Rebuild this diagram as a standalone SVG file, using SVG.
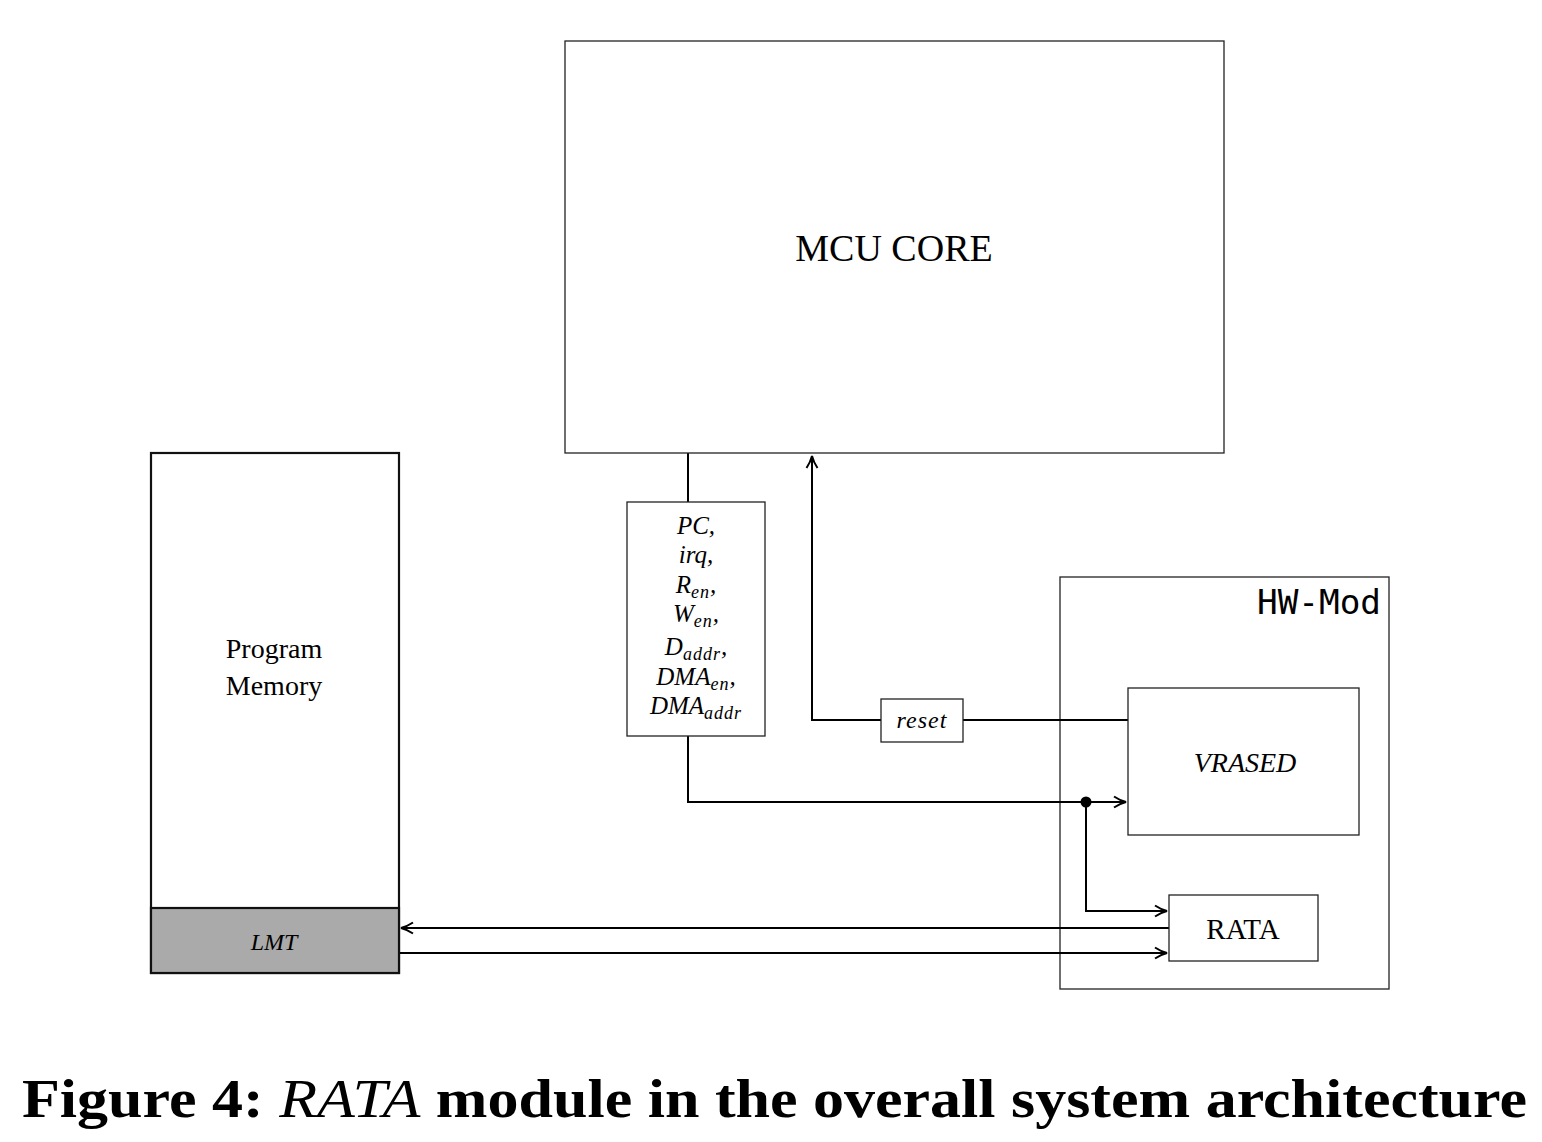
<svg xmlns="http://www.w3.org/2000/svg" width="1542" height="1142" viewBox="0 0 1542 1142">
<style>
.box{fill:#fff;stroke:#222;stroke-width:1.3}
.thick{fill:#fff;stroke:#111;stroke-width:2.2}
.wire{fill:none;stroke:#000;stroke-width:2}
.t{font-family:"Liberation Serif","DejaVu Serif",serif;fill:#000;text-anchor:middle}
.i{font-style:italic}
.sub{font-size:18px;letter-spacing:1px}
</style>
<defs>
<marker id="arr" viewBox="0 0 14 14" refX="13" refY="7" markerWidth="14" markerHeight="14" markerUnits="userSpaceOnUse" orient="auto">
<path d="M1,1.5 Q7,5.5 13,7 Q7,8.5 1,12.5" fill="none" stroke="#000" stroke-width="2"/>
</marker>
</defs>
<rect width="1542" height="1142" fill="#fff"/>
<g id="hw-mod">
<rect class="box" x="1060" y="577" width="329" height="412"/>
<text x="1381" y="614" font-size="34" font-family="'DejaVu Sans Mono',monospace" text-anchor="end" textLength="124" lengthAdjust="spacingAndGlyphs">HW-Mod</text>
</g>
<g id="connectors">
<polyline class="wire" points="688,453 688,502"/>
<polyline class="wire" points="688,736 688,802 1126,802" marker-end="url(#arr)"/>
<polyline class="wire" points="1086,802 1086,911 1167,911" marker-end="url(#arr)"/>
<circle cx="1086" cy="802" r="5.5" fill="#000"/>
<polyline class="wire" points="881,720 812,720 812,456" marker-end="url(#arr)"/>
<polyline class="wire" points="963,720 1128,720"/>
<polyline class="wire" points="1169,928 401,928" marker-end="url(#arr)"/>
<polyline class="wire" points="399,953 1167,953" marker-end="url(#arr)"/>
</g>
<g id="mcu-core">
<rect class="box" x="565" y="41" width="659" height="412"/>
<text class="t" x="894" y="261" font-size="38">MCU CORE</text>
</g>
<g id="program-memory">
<rect class="thick" x="151" y="453" width="248" height="520"/>
<rect x="151" y="908" width="248" height="65" fill="#aaa" stroke="#111" stroke-width="2.2"/>
<text class="t" x="274" y="658" font-size="28">Program</text>
<text class="t" x="274" y="695" font-size="28">Memory</text>
<text class="t i" x="274" y="950" font-size="24">LMT</text>
</g>
<g id="signals">
<rect class="box" x="627" y="502" width="138" height="234"/>
<g class="t i" font-size="25">
<text x="696" y="534">PC,</text>
<text x="696" y="563">irq,</text>
<text x="696" y="593">R<tspan class="sub" dy="5">en</tspan><tspan dy="-5">,</tspan></text>
<text x="696" y="622">W<tspan class="sub" dy="5">en</tspan><tspan dy="-5">,</tspan></text>
<text x="696" y="655">D<tspan class="sub" dy="5">addr</tspan><tspan dy="-5">,</tspan></text>
<text x="696" y="685">DMA<tspan class="sub" dy="5">en</tspan><tspan dy="-5">,</tspan></text>
<text x="696" y="714">DMA<tspan class="sub" dy="5">addr</tspan></text>
</g>
</g>
<g id="reset">
<rect class="box" x="881" y="699" width="82" height="43"/>
<text class="t i" x="922" y="728" font-size="24" letter-spacing="1">reset</text>
</g>
<g id="vrased">
<rect class="box" x="1128" y="688" width="231" height="147"/>
<text class="t i" x="1245" y="772" font-size="28">VRASED</text>
</g>
<g id="rata">
<rect class="box" x="1169" y="895" width="149" height="66"/>
<text class="t" x="1243" y="939" font-size="29">RATA</text>
</g>
<text x="22" y="1117" font-size="54" font-weight="bold" font-family="'Liberation Serif','DejaVu Serif',serif" textLength="1505" lengthAdjust="spacingAndGlyphs">Figure 4: <tspan font-style="italic" font-weight="normal">RATA</tspan> module in the overall system architecture</text>
</svg>
